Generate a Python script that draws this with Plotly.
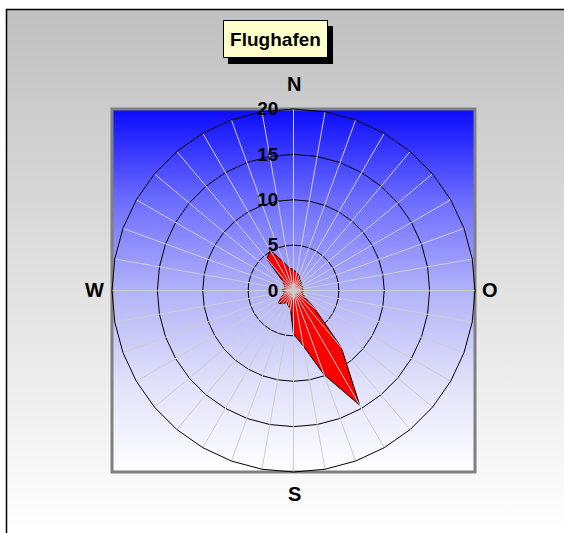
"""Windrose chart "Flughafen" rebuilt with Plotly."""

import base64

import plotly.graph_objects as go

W, H = 564, 533

DIRECTIONS = [0, 10, 20, 30, 40, 50, 60, 70, 80, 90, 100, 110,
              120, 130, 140, 150, 160, 170, 180, 190, 200, 210, 220, 230,
              240, 250, 260, 270, 280, 290, 300, 310, 320, 330, 340, 350]
FREQUENCY = [2.3, 2.0, 1.8, 1.4, 1.3, 1.1, 1.0, 1.1, 1.0, 1.1, 1.0, 1.1,
             1.4, 3.0, 8.2, 14.6, 9.9, 6.2, 4.8, 2.0, 1.8, 1.5, 1.9, 2.2,
             1.6, 1.2, 1.0, 1.3, 1.1, 1.0, 1.2, 1.5, 4.6, 5.1, 3.4, 2.5]
RADIAL_TICKS = [0, 5, 10, 15, 20]
COMPASS = ["N", "O", "S", "W"]

FONT = "Arial, Liberation Sans, sans-serif"


def gradient_svg(stops):
    stop_tags = "".join(f'<stop offset="{o}" stop-color="{c}"/>' for o, c in stops)
    svg = (
        '<svg xmlns="http://www.w3.org/2000/svg" width="100" height="100" preserveAspectRatio="none">'
        '<defs><linearGradient id="g" x1="0" y1="0" x2="0" y2="1">'
        f'{stop_tags}</linearGradient></defs><rect width="100" height="100" fill="url(#g)"/></svg>'
    )
    return "data:image/svg+xml;base64," + base64.b64encode(svg.encode()).decode()


def px_x(v):
    return v / W


def px_y(v):
    return 1 - v / H


cats = [str(d) for d in DIRECTIONS]
rmax = RADIAL_TICKS[-1]

fig = go.Figure()

# wind distribution polygon
fig.add_trace(go.Scatterpolar(
    r=FREQUENCY + FREQUENCY[:1],
    theta=cats + cats[:1],
    mode="lines",
    fill="toself",
    fillcolor="#FF0000",
    line=dict(color="#000000", width=1),
    hoverinfo="skip",
))

# spokes drawn over the filled area, as in the original
spoke_r, spoke_t = [], []
for c in cats:
    spoke_r += [0, rmax, None]
    spoke_t += [c, c, c]
fig.add_trace(go.Scatterpolar(
    r=spoke_r, theta=spoke_t, mode="lines",
    line=dict(color="#CDCDCD", width=1),
    hoverinfo="skip", connectgaps=False,
))

# grey hub in the centre
fig.add_trace(go.Scatterpolar(
    r=[0], theta=cats[:1], mode="markers",
    marker=dict(size=13, color="#C0C0C0"),
    hoverinfo="skip",
))

fig.update_layout(
    width=W,
    height=H,
    margin=dict(l=0, r=0, t=0, b=0),
    paper_bgcolor="#FFFFFF",
    showlegend=False,
    font=dict(family=FONT, color="#000000"),
    polar=dict(
        domain=dict(x=[px_x(112), px_x(475)], y=[px_y(472), px_y(109)]),
        bgcolor="rgba(0,0,0,0)",
        gridshape="linear",
        angularaxis=dict(
            type="category",
            categoryarray=cats,
            rotation=90,
            direction="clockwise",
            showticklabels=False,
            ticks="",
            showgrid=False,
            showline=True,
            linecolor="#000000",
            linewidth=1,
        ),
        radialaxis=dict(
            range=[0, rmax],
            tickvals=RADIAL_TICKS,
            angle=90,
            side="counterclockwise",
            showline=False,
            ticks="outside",
            ticklen=8,
            tickcolor="rgba(0,0,0,0)",
            tickangle=90,
            tickfont=dict(family=FONT, size=19, color="#000000", weight="bold"),
            gridcolor="#000000",
            gridwidth=1,
            layer="above traces",
        ),
    ),
    images=[
        dict(source=gradient_svg([(0, "#C0C0C0"), (1, "#FFFFFF")]),
             xref="paper", yref="paper",
             x=px_x(6), y=px_y(9), sizex=1 - px_x(6), sizey=px_y(9),
             sizing="stretch", xanchor="left", yanchor="top", layer="below"),
        dict(source=gradient_svg([(0, "#0A0AFF"), (0.25, "#6C6CFF"), (0.5, "#B2B2F9"),
                                  (0.75, "#E0E0FA"), (1, "#FFFFFF")]),
             xref="paper", yref="paper",
             x=px_x(112), y=px_y(109), sizex=363 / W, sizey=363 / H,
             sizing="stretch", xanchor="left", yanchor="top", layer="below"),
    ],
    shapes=[
        dict(type="rect", xref="paper", yref="paper", layer="below",
             x0=px_x(6.5), y0=-0.1, x1=1.1, y1=px_y(9.5),
             line=dict(color="#000000", width=1.5)),
        dict(type="rect", xref="paper", yref="paper", layer="below",
             x0=px_x(112), y0=px_y(472), x1=px_x(475), y1=px_y(109),
             line=dict(color="#808080", width=3)),
        dict(type="rect", xref="paper", yref="paper", layer="below",
             x0=px_x(228), y0=px_y(64), x1=px_x(333), y1=px_y(26),
             fillcolor="#000000", line=dict(width=0)),
    ],
)

# title box
fig.add_annotation(
    text="<b>Flughafen</b>", xref="paper", yref="paper",
    x=px_x(275), y=px_y(39.5), xanchor="center", yanchor="middle", showarrow=False,
    width=103, height=36, align="center",
    font=dict(family=FONT, size=19, color="#000000"),
    bgcolor="#FFFFCC", bordercolor="#000000", borderwidth=1, borderpad=0,
)

# compass labels
compass_pos = {"N": (294, 84), "O": (490, 290), "S": (294, 494), "W": (94, 290)}
for lab in COMPASS:
    cx, cy = compass_pos[lab]
    fig.add_annotation(
        text=f"<b>{lab}</b>", xref="paper", yref="paper",
        x=px_x(cx), y=px_y(cy), xanchor="center", yanchor="middle", showarrow=False,
        font=dict(family=FONT, size=20, color="#000000"),
    )

fig.write_html(
    "out.html",
    config={"displayModeBar": False},
    post_script="document.body.style.margin='0';document.body.style.overflow='hidden';",
)
